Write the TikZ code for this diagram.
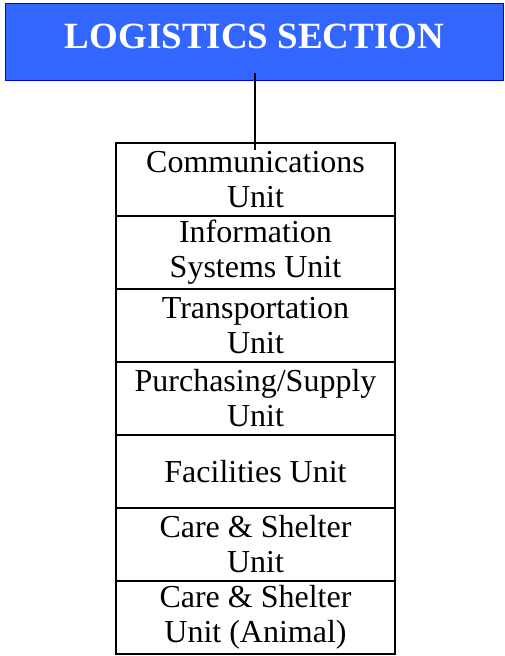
\documentclass[tikz,border=0pt]{standalone}
\usepackage{fontspec}
\setmainfont{Liberation Serif}
\definecolor{headfill}{HTML}{3366FF}
\definecolor{headline}{HTML}{0000FF}
\begin{document}
\begin{tikzpicture}[x=1pt,y=1pt,
  headbox/.style={rectangle, fill=headfill, draw=headline, line width=1.6pt,
    minimum width=498pt, minimum height=77pt, inner sep=0pt,
    text=white, font=\fontsize{37}{40}\selectfont\bfseries,
    text height=25pt, text depth=13pt},
  unitbox/.style={rectangle, draw=black, line width=1.8pt, fill=white,
    minimum width=279pt, minimum height=73pt, inner sep=0pt,
    align=center, font=\fontsize{32}{35}\selectfont},
  link/.style={draw=black, line width=1.5pt}]
\useasboundingbox (0,0) rectangle (505,-656);
\node[headbox] (head) at (254.5,-42) {LOGISTICS SECTION};
\node[unitbox] (u1) at (255.5,-179.5) {Communications\\Unit};
\node[unitbox] (u2) at (255.5,-252.5) {Information\\Systems Unit};
\node[unitbox] (u3) at (255.5,-325.5) {Transportation\\Unit};
\node[unitbox] (u4) at (255.5,-398.5) {Purchasing/Supply\\Unit};
\node[unitbox] (u5) at (255.5,-471.5) {Facilities Unit};
\node[unitbox] (u6) at (255.5,-544.5) {Care \& Shelter\\Unit};
\node[unitbox] (u7) at (255.5,-617.5) {Care \& Shelter\\Unit (Animal)};
\coordinate (ltop) at (255,-73);
\coordinate (lbot) at (255,-150);
\draw[link] (ltop) -- (lbot);
\end{tikzpicture}
\end{document}
